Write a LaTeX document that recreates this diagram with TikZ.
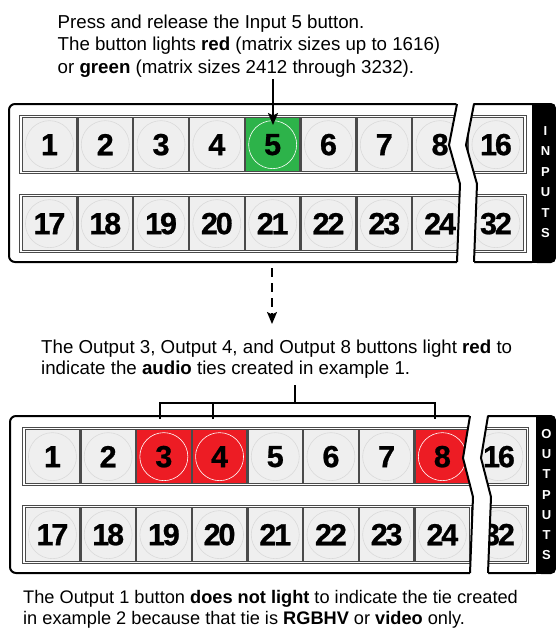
\documentclass[tikz,border=0pt]{standalone}
\usepackage{fontspec}
\setmainfont{Liberation Sans}
\newfontfamily\numfont[LetterSpace=-7,FakeBold=0.8]{Liberation Sans}
\usetikzlibrary{arrows.meta}
\definecolor{btnfill}{HTML}{EFEFEF}
\definecolor{btnedge}{HTML}{4A4A4A}
\definecolor{circ}{HTML}{DADADA}
\definecolor{lgreen}{HTML}{2DB34A}
\definecolor{lred}{HTML}{ED1C24}
\begin{document}
\begin{tikzpicture}[x=1pt,y=-1pt,
  btn/.style={draw=btnedge, line width=1.3pt, fill=btnfill, minimum width=54.6pt, minimum height=54pt,
    inner sep=0pt, anchor=north west, font=\numfont\bfseries\fontsize{30.5}{30.5}\selectfont,
    path picture={\draw[circ, line width=0.6pt] (path picture bounding box.center) circle[radius=24pt];}},
  lit/.style={btn, fill=#1,
    path picture={\draw[white, line width=0.6pt] (path picture bounding box.center) circle[radius=24pt];}},
  rowframe/.style={draw=btnedge, line width=1pt, fill=white},
  panel/.style={line width=2pt, rounded corners=6pt},
  brk/.style={line width=2pt},
  strip/.style={font=\bfseries\fontsize{13}{13}\selectfont, text=white, inner sep=0pt},
  txt/.style={anchor=base west, inner sep=0pt, font=\fontsize{18.7}{22}\selectfont},
  txtb/.style={txt, font=\fontsize{18.2}{22}\selectfont},
  conn/.style={line width=2pt},
  tip/.style={-{Stealth[length=12pt,width=10pt,inset=2.5pt]}}
]
\useasboundingbox (0,0) rectangle (556,637);

% ---------- top text ----------
\node[txt] (t1) at (57.5,28) {Press and release the Input 5 button.};
\node[txt] (t2) at (57.5,50.5) {The button lights \textbf{red} (matrix sizes up to 1616)};
\node[txt] (t3) at (57.5,73) {or \textbf{green} (matrix sizes 2412 through 3232).};

% ---------- INPUTS panel ----------
\draw[panel] (532,104) -- (9,104) -- (9,262) -- (532,262);
\fill[rounded corners=5pt] (532,103) rectangle (556,263);
\fill (532,103) rectangle (545,263);
\draw[rowframe] (19,115) rectangle (526,173);
\draw[rowframe] (19,194) rectangle (526,252);
\foreach \k in {1,...,8} {
  \pgfmathsetmacro{\xx}{21.5+(\k-1)*55.8}
  \pgfmathtruncatemacro{\kk}{\k+16}
  \ifnum\k=5
    \node[lit=lgreen] (in\k) at (\xx,117) {\k};
  \else
    \node[btn] (in\k) at (\xx,117) {\k};
  \fi
  \node[btn] (in\kk) at (\xx,196) {\kk};
}
\node[btn] (in16) at (468,117) {16};
\node[btn] (in32) at (468,196) {32};
\fill[white] (457,100) -- (449,145) -- (460,184) -- (457,266) -- (474,266) -- (477,184) -- (466,145) -- (474,100) -- cycle;
\draw[brk] (457,104) -- (449,145) -- (460,184) -- (457,262);
\draw[brk] (474,104) -- (466,145) -- (477,184) -- (474,262);
\foreach \L [count=\i] in {I,N,P,U,T,S}
  \node[strip] (inl\i) at (545.5,{131+(\i-1)*20.4}) {\L};

% arrows
\coordinate (a1) at (273,79);
\coordinate (a2) at (273,125);
\draw[conn,tip] (a1) -- (a2);
\coordinate (d1) at (272,268);
\coordinate (d2) at (272,324);
\draw[conn,tip,dash pattern=on 9pt off 6pt] (d1) -- (d2);

% ---------- middle text ----------
\node[txt] (m1) at (41,353) {The Output 3, Output 4, and Output 8 buttons light \textbf{red} to};
\node[txt] (m2) at (41,374.5) {indicate the \textbf{audio} ties created in example 1.};

% ---------- OUTPUTS panel ----------
\draw[panel] (536,416) -- (10,416) -- (10,573) -- (536,573);
\fill[rounded corners=5pt] (536,415) rectangle (556,574);
\fill (536,415) rectangle (548,574);
\draw[rowframe] (22,427) rectangle (528,485);
\draw[rowframe] (22,505) rectangle (528,563);
\foreach \k in {1,...,8} {
  \pgfmathsetmacro{\xx}{24.5+(\k-1)*55.7}
  \pgfmathtruncatemacro{\kk}{\k+16}
  \ifnum\k=3
    \node[lit=lred] (out\k) at (\xx,429) {\k};
  \else\ifnum\k=4
    \node[lit=lred] (out\k) at (\xx,429) {\k};
  \else\ifnum\k=8
    \node[lit=lred] (out\k) at (\xx,429) {\k};
  \else
    \node[btn] (out\k) at (\xx,429) {\k};
  \fi\fi\fi
  \node[btn] (out\kk) at (\xx,507) {\kk};
}
\node[btn] (out16) at (471,429) {16};
\node[btn] (out32) at (471,507) {32};
\fill[white] (470,412) -- (463,458) -- (473,497) -- (470,577) -- (488,577) -- (491,497) -- (481,458) -- (488,412) -- cycle;
\draw[brk] (470,416) -- (463,458) -- (473,497) -- (470,573);
\draw[brk] (488,416) -- (481,458) -- (491,497) -- (488,573);
\foreach \L [count=\i] in {O,U,T,P,U,T,S}
  \node[strip] (outl\i) at (546.5,{434+(\i-1)*20.2}) {\L};

% bracket
\coordinate (b0) at (295,385);
\coordinate (bj) at (295,403);
\coordinate (l3) at (160,419);
\coordinate (l4) at (213,419);
\coordinate (l8) at (435,419);
\foreach \c in {l3,l4,l8}
  \draw[white, line width=7pt] ([yshift=-8pt]\c) -- (\c);
\draw[conn] (b0) -- (bj);
\draw[conn] (l3) |- (bj) -| (l8);
\draw[conn] (l4) -- (l4 |- bj);

% ---------- bottom text ----------
\node[txtb] (n1) at (23,603) {The Output 1 button \textbf{does not light} to indicate the tie created};
\node[txtb] (n2) at (23,624.5) {in example 2 because that tie is \textbf{RGBHV} or \textbf{video} only.};
\end{tikzpicture}
\end{document}
